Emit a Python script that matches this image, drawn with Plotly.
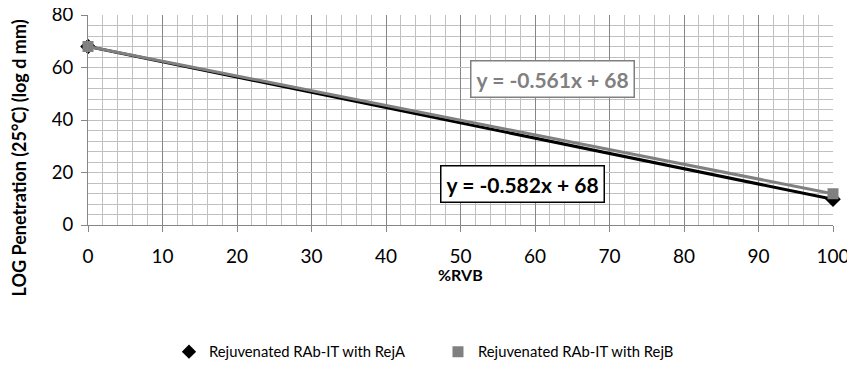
import plotly.graph_objects as go

rvb = [0, 100]
rej_a = [68, 9.8]
rej_b = [68, 11.9]
name_a = "Rejuvenated RAb-IT with RejA"
name_b = "Rejuvenated RAb-IT with RejB"
eq_a = "y = -0.582x + 68"
eq_b = "y = -0.561x + 68"
x_title = "%RVB"
y_title = "LOG Penetration (25°C) (log d mm)"

FONT = "Lato, 'Open Sans', sans-serif"

fig = go.Figure()
fig.add_trace(go.Scatter(x=rvb, y=rej_a, mode="lines+markers", name=name_a,
                         line=dict(color="black", width=3), cliponaxis=False,
                         marker=dict(symbol="diamond", size=12, color="black"),
                         showlegend=False))
fig.add_trace(go.Scatter(x=rvb, y=rej_b, mode="lines+markers", name=name_b,
                         line=dict(color="#808080", width=3), cliponaxis=False,
                         marker=dict(symbol="square", size=11, color="#808080"),
                         showlegend=False))
# legend entries (markers only, as in the reference)
fig.add_trace(go.Scatter(x=[None], y=[None], mode="markers", name=name_a,
                         marker=dict(symbol="diamond", size=11, color="black")))
fig.add_trace(go.Scatter(x=[None], y=[None], mode="markers", name=name_b,
                         marker=dict(symbol="square", size=11, color="#808080")))

fig.add_annotation(x=62.3, y=55.6, xref="x", yref="y", text="<b>" + eq_b + "</b>",
                   showarrow=False, font=dict(family=FONT, size=21, color="#808080"),
                   bgcolor="white", bordercolor="#808080", borderwidth=1.5, borderpad=5)
fig.add_annotation(x=58.3, y=15.8, xref="x", yref="y", text="<b>" + eq_a + "</b>",
                   showarrow=False, font=dict(family=FONT, size=21, color="black"),
                   bgcolor="white", bordercolor="black", borderwidth=1.5, borderpad=5)
# axis titles
fig.add_annotation(x=-0.092, y=0.319, xref="paper", yref="paper",
                   xanchor="center", yanchor="middle",
                   text="<b>" + y_title + "</b>", textangle=-90, showarrow=False,
                   font=dict(family=FONT, size=18, color="black"))
fig.add_annotation(x=0.5, y=-0.238, xref="paper", yref="paper",
                   xanchor="center", yanchor="middle",
                   text="<b>" + x_title + "</b>", showarrow=False,
                   font=dict(family=FONT, size=16, color="black"))

# the page body adds an 8px margin; size and margins compensate for it
fig.update_layout(
    width=847, height=371,
    margin=dict(l=80, r=22, t=7, b=154, autoexpand=False),
    plot_bgcolor="white", paper_bgcolor="white",
    font=dict(family=FONT, size=16, color="black"),
    legend=dict(orientation="h", x=0.1087, xanchor="left", y=-0.605, yanchor="middle",
                font=dict(family=FONT, size=14.8), itemwidth=30, tracegroupgap=0,
                entrywidth=224, entrywidthmode="pixels"),
)
fig.update_xaxes(range=[0, 100], dtick=10, tick0=0, automargin=False,
                 showgrid=True, gridcolor="#868686", gridwidth=1,
                 minor=dict(dtick=2, showgrid=True, gridcolor="#c0c0c0", gridwidth=1),
                 showline=True, linecolor="#868686", linewidth=1,
                 ticks="outside", ticklen=6, tickcolor="#868686",
                 zeroline=False, ticklabelstandoff=8, ticklabeloverflow="allow",
                 tickfont=dict(family=FONT, size=19))
fig.update_yaxes(range=[0, 80], dtick=20, tick0=0, automargin=False,
                 showgrid=True, gridcolor="#c0c0c0", gridwidth=1,
                 minor=dict(dtick=4, showgrid=True, gridcolor="#c0c0c0", gridwidth=1),
                 showline=True, linecolor="#868686", linewidth=1,
                 ticks="outside", ticklen=6, tickcolor="#868686",
                 zeroline=False, ticklabelstandoff=4, ticklabeloverflow="allow",
                 tickfont=dict(family=FONT, size=18.5))

fig.write_html("out.html")
